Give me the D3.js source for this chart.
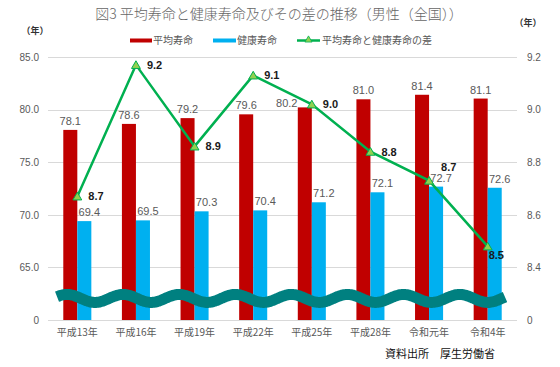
<!DOCTYPE html>
<html><head><meta charset="utf-8">
<script src="https://cdn.jsdelivr.net/npm/d3@7"></script>
<style>
html,body{margin:0;padding:0;background:#fff;}
svg{display:block;font-family:"Liberation Sans","Noto Sans CJK JP",sans-serif;}
</style></head>
<body>
<svg id="chart" width="560" height="367"></svg>
<script>
const categories = ["平成13年","平成16年","平成19年","平成22年","平成25年","平成28年","令和元年","令和4年"];
const avgLife = [78.07, 78.64, 79.19, 79.55, 80.21, 80.98, 81.41, 81.05];
const healthyLife = [69.40, 69.47, 70.33, 70.42, 71.19, 72.14, 72.68, 72.57];
const gapLife = [8.67, 9.17, 8.86, 9.13, 9.02, 8.84, 8.73, 8.48];
const leftTicks = [65, 70, 75, 80, 85];
const rightTicks = [8.4, 8.6, 8.8, 9.0, 9.2];
const seriesNames = ["平均寿命", "健康寿命", "平均寿命と健康寿命の差"];
const titleText = "図3 平均寿命と健康寿命及びその差の推移（男性（全国））";
const sourceText = "資料出所　厚生労働省";
const unitText = "（年）";

const svg = d3.select("#chart");
const plotL = 48, plotR = 517, plotT = 57, plotB = 320;
const RED = "#C00000", BLUE = "#00B0F0", GREEN = "#00B050", TEAL = "#008080";
const GRAY = "#595959";
const cjk = '"Noto Sans CJK JP","Liberation Sans",sans-serif';
const fmt = v => d3.format(".1f")(v + 1e-9);

const x = d3.scaleBand().domain(categories).range([plotL, plotR]).padding(0);
const sub = d3.scaleBand().domain(["avg","healthy"]).range([0, x.bandwidth()]).paddingInner(0).paddingOuter(1.09);
const yL = d3.scaleLinear().domain([60, 85]).range([plotB, plotT]);
const yR = d3.scaleLinear().domain([8.2, 9.2]).range([plotB, plotT]);

// title
svg.append("text").attr("x", 279).attr("y", 15).attr("text-anchor","middle")
  .attr("dominant-baseline","middle").attr("font-size", 14).attr("font-weight", 300).attr("fill", "#666")
  .style("font-family", cjk).text(titleText);

// unit labels
svg.append("text").attr("x", 35).attr("y", 32).attr("text-anchor","middle").attr("dominant-baseline","middle")
  .attr("font-size", 9).attr("font-weight","bold").attr("fill","#333").style("font-family", cjk).text(unitText);
svg.append("text").attr("x", 528).attr("y", 24).attr("text-anchor","middle").attr("dominant-baseline","middle")
  .attr("font-size", 9).attr("font-weight","bold").attr("fill","#333").style("font-family", cjk).text(unitText);

// legend
const lg = svg.append("g").style("font-family", cjk).attr("font-size", 10).attr("fill", GRAY);
lg.append("rect").attr("x",130).attr("y",38.5).attr("width",22).attr("height",4).attr("fill",RED);
lg.append("text").attr("x",153).attr("y",41).attr("dominant-baseline","middle").text(seriesNames[0]);
lg.append("rect").attr("x",213).attr("y",38.5).attr("width",23).attr("height",4).attr("fill",BLUE);
lg.append("text").attr("x",237).attr("y",41).attr("dominant-baseline","middle").text(seriesNames[1]);
lg.append("line").attr("x1",297).attr("x2",320).attr("y1",40.5).attr("y2",40.5).attr("stroke",GREEN).attr("stroke-width",2.5);
lg.append("path").attr("d", d3.symbol(d3.symbolTriangle, 22)()).attr("transform","translate(308.5,40)")
  .attr("fill","#92D050").attr("stroke",GREEN).attr("stroke-width",0.8);
lg.append("text").attr("x",322).attr("y",41).attr("dominant-baseline","middle").text(seriesNames[2]);

// gridlines
const gridVals = [60].concat(leftTicks);
svg.append("g").selectAll("line").data(gridVals).join("line")
  .attr("x1", plotL).attr("x2", plotR)
  .attr("y1", d => Math.round(yL(d)) + 0.5).attr("y2", d => Math.round(yL(d)) + 0.5)
  .attr("stroke", "#D9D9D9").attr("stroke-width", 1);

// left axis
const leftAxis = d3.axisLeft(yL).tickValues([60].concat(leftTicks))
  .tickFormat(d => d === 60 ? "0" : d3.format(".1f")(d)).tickSize(0).tickPadding(8);
const la = svg.append("g").attr("transform", `translate(${plotL - 1},0)`).call(leftAxis);
la.select(".domain").remove();
la.selectAll("text").attr("fill", GRAY).attr("font-size", 10).style("font-family","Liberation Sans, sans-serif");

// right axis
const rightAxis = d3.axisRight(yR).tickValues([8.2].concat(rightTicks))
  .tickFormat(d => Math.abs(d - 8.2) < 1e-9 ? "0" : d3.format(".1f")(d)).tickSize(0).tickPadding(10);
const ra = svg.append("g").attr("transform", `translate(${plotR},0)`).call(rightAxis);
ra.select(".domain").remove();
ra.selectAll("text").attr("fill", GRAY).attr("font-size", 10).style("font-family","Liberation Sans, sans-serif");

// x axis labels
const xAxis = d3.axisBottom(x).tickSize(0).tickPadding(9);
const xa = svg.append("g").attr("transform", `translate(0,${plotB})`).call(xAxis);
xa.select(".domain").remove();
xa.selectAll("text").attr("fill", GRAY).attr("font-size", 10).style("font-family", cjk);

// bars
const barData = categories.map((c, i) => ({c, avg: avgLife[i], healthy: healthyLife[i]}));
const bars = svg.append("g");
bars.selectAll("rect.avg").data(barData).join("rect").attr("class","avg")
  .attr("x", d => x(d.c) + sub("avg")).attr("width", sub.bandwidth())
  .attr("y", d => yL(d.avg)).attr("height", d => yL(60) - yL(d.avg)).attr("fill", RED);
bars.selectAll("rect.healthy").data(barData).join("rect").attr("class","healthy")
  .attr("x", d => x(d.c) + sub("healthy")).attr("width", sub.bandwidth())
  .attr("y", d => yL(d.healthy)).attr("height", d => yL(60) - yL(d.healthy)).attr("fill", BLUE);

// bar labels
const bl = svg.append("g").attr("font-size", 11).attr("fill", GRAY).style("font-family","Liberation Sans, sans-serif");
bl.selectAll("text.avg").data(barData).join("text").attr("class","avg")
  .attr("x", (d, i) => x(d.c) + sub("avg") + sub.bandwidth()/2 + (i === 4 ? -18 : 0))
  .attr("y", (d, i) => yL(d.avg) - (i === 4 ? 0 : 5))
  .attr("text-anchor","middle").text(d => fmt(d.avg));
bl.selectAll("text.healthy").data(barData).join("text").attr("class","healthy")
  .attr("x", d => x(d.c) + sub("healthy") + sub.bandwidth()/2 + 5)
  .attr("y", d => yL(d.healthy) - 5)
  .attr("text-anchor","middle").text(d => fmt(d.healthy));

// wave (axis break)
const breakVal = 62.05, waveAmp = 4, wavePeriod = 56.1, wavePeak = 67;
const waveXs = d3.range(57, 506, 1);
const wave = d3.line().x(d => d).y(d => yL(breakVal) - waveAmp * Math.cos(2 * Math.PI * (d - wavePeak) / wavePeriod)).curve(d3.curveBasis);
svg.append("path").attr("d", wave(waveXs)).attr("fill","none").attr("stroke", TEAL).attr("stroke-width", 11);

// line
const lineData = categories.map((c, i) => ({c, v: gapLife[i], i}));
const cx = d => x(d.c) + x.bandwidth()/2;
svg.append("path").datum(lineData)
  .attr("d", d3.line().x(cx).y(d => yR(d.v)))
  .attr("fill","none").attr("stroke", GREEN).attr("stroke-width", 2.5);
svg.append("g").selectAll("path").data(lineData).join("path")
  .attr("d", d3.symbol(d3.symbolTriangle, 34)())
  .attr("transform", d => `translate(${cx(d)},${yR(d.v) + 1})`)
  .attr("fill", "#92D050").attr("stroke", GREEN).attr("stroke-width", 1);

// line labels
const labelOffsets = {6: [12, -13], 7: [1, 10]};
svg.append("g").selectAll("text").data(lineData).join("text")
  .attr("x", d => cx(d) + (labelOffsets[d.i] ? labelOffsets[d.i][0] : 11))
  .attr("y", d => yR(d.v) + (labelOffsets[d.i] ? labelOffsets[d.i][1] : 1))
  .attr("dominant-baseline","middle")
  .attr("font-size", 11).attr("font-weight","bold").attr("fill","#1a1a1a")
  .style("font-family","Liberation Sans, sans-serif")
  .text(d => fmt(d.v));

// source
svg.append("text").attr("x", 385).attr("y", 355).attr("dominant-baseline","middle")
  .attr("font-size", 11).attr("fill", "#111").style("font-family", cjk).text(sourceText);
</script>
</body></html>
